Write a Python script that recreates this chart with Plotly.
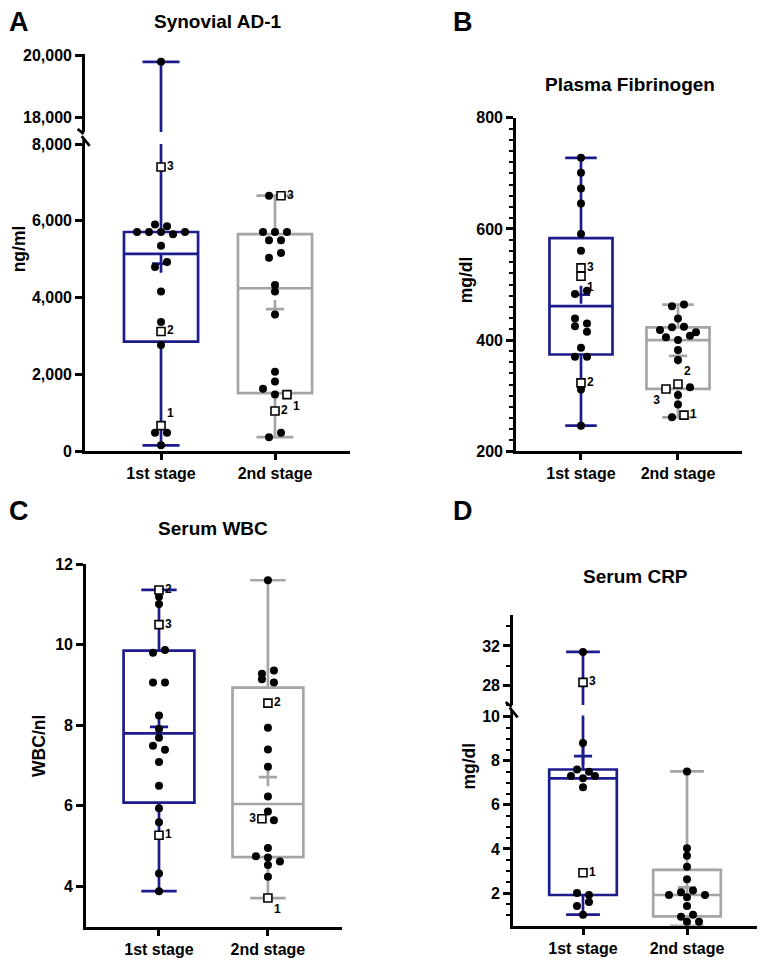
import numpy as np
import plotly.graph_objects as go

# the page body adds an 8px margin, so the figure is drawn 8px smaller and
# every pixel position below is shifted by it
PAGE_W, PAGE_H, MARGIN = 767, 972, 8
W, H = PAGE_W - MARGIN, PAGE_H - MARGIN
BLUE = "#1c1c8c"
GRAY = "#a5a5a5"
FONT = "Liberation Sans, Arial, sans-serif"
STAGES = ["1st stage", "2nd stage"]

# values; "1"/"2"/"3" flag the labelled patients (open squares)
ad1_1st = [19800, 7400, 5904, 5857, 5708, 5708, 5708, 5649, 5708, 5350, 4797, 4925,
           4158, 3366, 3118, 2768, 477, 665, 477, 153]
ad1_1st_pt = ["", "3", "", "", "", "", "", "", "", "", "", "",
              "", "", "2", "", "", "1", "", ""]
ad1_2nd = [6653, 6653, 5708, 5708, 5708, 5495, 5495, 5035, 5163, 4328, 4158, 3561,
           2070, 1815, 1628, 1474, 1474, 1048, 365, 477]
ad1_2nd_pt = ["", "3", "", "", "", "", "", "", "", "", "", "",
              "", "", "", "", "1", "2", "", ""]

fib_1st = [728, 701, 673, 646, 591, 561, 530, 515, 483, 489, 439, 430, 425, 415,
           386, 370, 370, 323, 311, 246]
fib_1st_pt = ["", "", "", "", "", "", "3", "1", "", "", "", "", "", "",
              "", "", "", "2", "", ""]
fib_2nd = [461, 464, 439, 418, 423, 424, 414, 405, 400, 408, 382, 364, 312, 321,
           315, 301, 284, 261, 265]
fib_2nd_pt = ["", "", "", "", "", "", "", "", "", "", "", "", "3", "2",
              "", "", "", "", "1"]

wbc_1st = [11.36, 11.19, 11.01, 10.50, 9.80, 9.87, 9.06, 9.06, 8.24, 7.91, 7.69,
           7.49, 7.39, 7.09, 6.50, 5.94, 5.59, 5.27, 4.32, 3.88]
wbc_1st_pt = ["2", "", "", "3", "", "", "", "", "", "", "",
              "", "", "", "", "", "", "1", "", ""]
wbc_2nd = [11.60, 9.28, 9.36, 9.14, 9.06, 8.55, 7.94, 7.40, 6.97, 6.23, 5.86,
           5.68, 5.64, 4.95, 4.75, 4.72, 4.62, 4.53, 4.24, 3.71]
wbc_2nd_pt = ["", "", "", "", "", "2", "", "", "", "", "",
              "3", "", "", "", "", "", "", "", "1"]

crp_1st = [31.4, 28.3, 8.8, 7.6, 7.5, 7.3, 7.2, 7.3, 6.8, 2.92, 2.0, 1.91, 1.41, 1.59, 1.02]
crp_1st_pt = ["", "3", "", "", "", "", "", "", "", "1", "", "", "", "", ""]
crp_2nd = [7.51, 4.03, 3.69, 3.19, 2.62, 1.91, 2.03, 2.11, 1.91, 1.81, 1.41,
           0.92, 1.02, 0.51, 0.70, 0.70]
crp_2nd_pt = [""] * len(crp_2nd)

# label side for the numbered squares (panel, stage, label)
lab_pos = {(0, 0, "1"): "top right", (0, 1, "1"): "bottom right",
           (1, 0, "1"): "bottom right",
           (1, 1, "3"): "bottom left", (1, 1, "2"): "top right",
           (2, 1, "3"): "middle left", (2, 1, "1"): "bottom right"}


def fx(px):
    return (px - MARGIN) / W


def fy(py):
    return 1 - (py - MARGIN) / H


def swarm(vals, px_per_unit, thr=6.5, step=12.0):
    # group points of near-equal height into rows, spread each row symmetrically
    order = sorted(range(len(vals)), key=lambda i: -vals[i])
    rows = []
    for i in order:
        if rows and (vals[rows[-1][0]] - vals[i]) * px_per_unit < thr:
            rows[-1].append(i)
        else:
            rows.append([i])
    off = [0.0] * len(vals)
    for r in rows:
        r = sorted(r)
        for k, i in enumerate(r):
            off[i] = (k - (len(r) - 1) / 2) * step
    return off


panels = [
    dict(vals=(ad1_1st, ad1_2nd), pts=(ad1_1st_pt, ad1_2nd_pt), xpx=(85, 350), xr=(-0.667, 1.658),
         segs=[dict(py=(138.3, 451), r=(0, 8000), dtick=2000),
               dict(py=(46.7, 126), r=(17533, 20051), dtick=2000)], brk=8000),
    dict(vals=(fib_1st, fib_2nd), pts=(fib_1st_pt, fib_2nd_pt), xpx=(516, 742), xr=(-0.67, 1.66),
         segs=[dict(py=(111.7, 451), r=(200, 800), dtick=200, minor=20)]),
    dict(vals=(wbc_1st, wbc_2nd), pts=(wbc_1st_pt, wbc_2nd_pt), xpx=(86, 342), xr=(-0.67, 1.68),
         segs=[dict(py=(566, 935), r=(3, 12), dtick=2)]),
    dict(vals=(crp_1st, crp_2nd), pts=(crp_1st_pt, crp_2nd_pt), xpx=(513, 757), xr=(-0.673, 1.673),
         segs=[dict(py=(720, 934), r=(0.52, 10.05), dtick=2, minor=0.5),
               dict(py=(617.3, 709.3), r=(26, 35.2), dtick=4, minor=2)], brk=10.05),
]

fig = go.Figure()
layout = {}
shapes = []
tickfont = dict(family=FONT, size=16, color="black", weight="bold")
LW = 2.7
n = 0
for p_i, p in enumerate(panels):
    axes = []
    for s_i, seg in enumerate(p["segs"]):
        n += 1
        sfx = "" if n == 1 else str(n)
        xa = dict(domain=[fx(p["xpx"][0]), fx(p["xpx"][1])], range=list(p["xr"]),
                  anchor="y" + sfx, showgrid=False, zeroline=False)
        if s_i == 0:
            xa.update(showline=True, linecolor="black", linewidth=LW, ticks="outside",
                      ticklen=6, tickwidth=LW, tickcolor="black", tickvals=[0, 1],
                      ticktext=STAGES, tickfont=tickfont)
        else:
            xa.update(visible=False)
        ya = dict(domain=[fy(seg["py"][1]), fy(seg["py"][0])], range=list(seg["r"]),
                  anchor="x" + sfx, showgrid=False, zeroline=False, showline=True,
                  linecolor="black", linewidth=LW, ticks="outside", ticklen=7, tickwidth=LW,
                  tickcolor="black", tickmode="linear", tick0=0, dtick=seg["dtick"],
                  tickformat=",", tickfont=tickfont)
        if "minor" in seg:
            ya["minor"] = dict(dtick=seg["minor"], ticks="outside", ticklen=4, tickwidth=2,
                               tickcolor="black", showgrid=False)
        layout["xaxis" + sfx] = xa
        layout["yaxis" + sfx] = ya
        axes.append(("x" + sfx, "y" + sfx))

    seg0 = p["segs"][0]
    px_per_x = (p["xpx"][1] - p["xpx"][0]) / (p["xr"][1] - p["xr"][0])
    px_per_y = (seg0["py"][1] - seg0["py"][0]) / (seg0["r"][1] - seg0["r"][0])

    for k in range(2):
        vals = np.array(p["vals"][k], float)
        pts = np.array(p["pts"][k])
        color = BLUE if k == 0 else GRAY
        q1, q3 = np.percentile(vals, [25, 75], method="weibull")
        mean = vals.mean()
        xs = k + np.array(swarm(list(vals), px_per_y)) / px_per_x
        for s_i, (xr_, yr_) in enumerate(axes):
            fig.add_trace(go.Box(
                x=[k], q1=[q1], median=[np.median(vals)], q3=[q3],
                lowerfence=[vals.min()], upperfence=[vals.max()],
                width=0.65, whiskerwidth=0.5, boxpoints=False,
                line=dict(color=color, width=LW), fillcolor="rgba(0,0,0,0)",
                xaxis=xr_, yaxis=yr_, showlegend=False, hoverinfo="skip"))
            if "brk" in p:
                sel = vals <= p["brk"] if s_i == 0 else vals > p["brk"]
                mean_in = (mean <= p["brk"]) == (s_i == 0)
            else:
                sel = np.ones(len(vals), bool)
                mean_in = True
            if mean_in:
                fig.add_trace(go.Scatter(
                    x=[k], y=[mean], mode="markers", cliponaxis=False,
                    marker=dict(symbol="cross-thin", size=13, line=dict(color=color, width=LW)),
                    xaxis=xr_, yaxis=yr_, showlegend=False, hoverinfo="skip"))
            dots = sel & (pts == "")
            fig.add_trace(go.Scatter(
                x=xs[dots], y=vals[dots], mode="markers", cliponaxis=False,
                marker=dict(size=8, color="black"),
                xaxis=xr_, yaxis=yr_, showlegend=False))
            sq = sel & (pts != "")
            if sq.any():
                fig.add_trace(go.Scatter(
                    x=xs[sq], y=vals[sq], mode="markers+text", cliponaxis=False,
                    text=list(pts[sq]),
                    textposition=[lab_pos.get((p_i, k, t), "middle right") for t in pts[sq]],
                    textfont=dict(family=FONT, size=12, color="black", weight="bold"),
                    marker=dict(symbol="square", size=8, color="white",
                                line=dict(color="black", width=1.6)),
                    xaxis=xr_, yaxis=yr_, showlegend=False))

    # broken-axis marks
    if "brk" in p:
        x0 = p["xpx"][0] - LW / 2
        ybot = p["segs"][1]["py"][1]
        ytop = p["segs"][0]["py"][0]
        for (ax, ay, bx, by) in [(x0 - 6, ybot - 3, x0, ybot + 2),
                                 (x0, ytop - 6, x0, ytop),
                                 (x0 - 2, ytop - 8, x0 + 6, ytop + 2)]:
            shapes.append(dict(type="line", xref="paper", yref="paper",
                               x0=fx(ax), y0=fy(ay), x1=fx(bx), y1=fy(by),
                               line=dict(color="black", width=LW)))

ann = []
for t, x, y in [("A", 19, 14), ("B", 463, 14), ("C", 19, 512), ("D", 463, 512)]:
    ann.append(dict(text=t, x=fx(x), y=fy(y), font=dict(family=FONT, size=27, color="black", weight="bold")))
for t, x, y in [("Synovial AD-1", 217, 14), ("Plasma Fibrinogen", 629.5, 78),
                ("Serum WBC", 213, 530), ("Serum CRP", 635, 579)]:
    ann.append(dict(text=t, x=fx(x), y=fy(y), font=dict(family=FONT, size=19, color="black", weight="bold")))
for t, x, y in [("ng/ml", 18.5, 245), ("mg/dl", 466, 277), ("WBC/nl", 39, 751), ("mg/dl", 469, 772)]:
    ann.append(dict(text=t, x=fx(x), y=fy(y), textangle=-90,
                    font=dict(family=FONT, size=17.5, color="black", weight="bold")))
for a in ann:
    a.update(xref="paper", yref="paper", xanchor="center", yanchor="middle", showarrow=False)

fig.update_layout(width=W, height=H, margin=dict(l=0, r=0, t=0, b=0),
                  plot_bgcolor="white", paper_bgcolor="white", showlegend=False,
                  annotations=ann, shapes=shapes, **layout)
fig.write_html("out.html")
